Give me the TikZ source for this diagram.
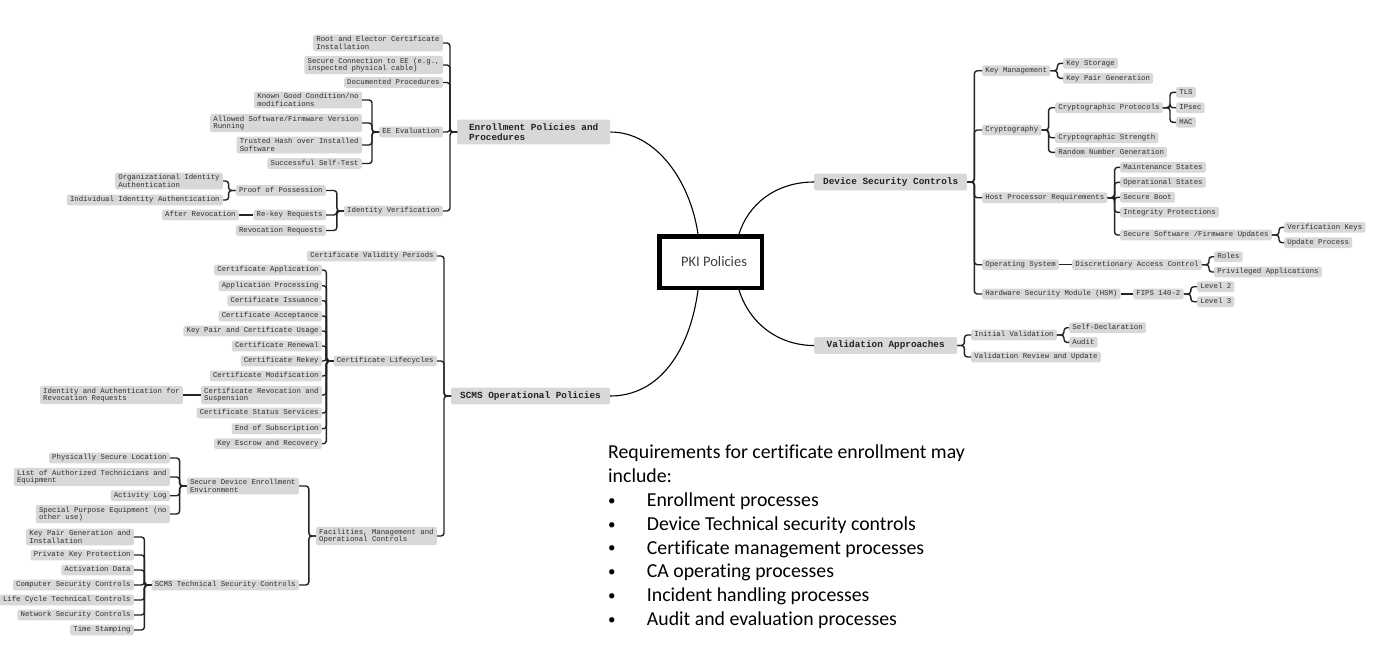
\documentclass[tikz,border=0pt]{standalone}
\usepackage{fontspec}
\setmainfont{Carlito}
\newfontfamily\monof{Liberation Mono}
\newfontfamily\calib[Ligatures={NoCommon}]{Carlito}
\definecolor{boxgray}{RGB}{216,216,216}
\definecolor{leaftext}{RGB}{45,45,45}
\definecolor{cattext}{RGB}{35,35,35}
\definecolor{linegray}{RGB}{35,35,35}
\definecolor{pkitext}{RGB}{64,64,64}
\newcommand\rbr[2]{\foreach \chn in {#2}{\draw[br] (#1.east) -- ++(7,0) |- (\chn.west);}}
\newcommand\lbr[2]{\foreach \chn in {#2}{\draw[br] (#1.west) -- ++(-7,0) |- (\chn.east);}}
\newcommand\bul{\makebox[38.7pt][l]{\raisebox{1.2pt}{\fontsize{15}{15}\selectfont•}}}
\begin{document}
\begin{tikzpicture}[x=1pt,y=-1pt,
  leaf/.style={fill=boxgray, rounded corners=2pt, inner xsep=3.2pt, inner ysep=2pt,
    font=\monof\fontsize{7.33}{7.4}\selectfont, text=leaftext, text height=5.1pt, text depth=1.5pt},
  leafii/.style={fill=boxgray, rounded corners=2pt, inner xsep=3.2pt, inner ysep=2pt,
    font=\monof\fontsize{7.33}{7.4}\selectfont, text=leaftext, align=left},
  cat/.style={fill=boxgray, rounded corners=2pt, inner xsep=9pt, inner ysep=4.4pt,
    font=\monof\bfseries\fontsize{9.37}{10}\selectfont, text=cattext, text height=6.3pt, text depth=1.8pt},
  catii/.style={fill=boxgray, rounded corners=2pt, inner xsep=9pt, inner ysep=4pt,
    font=\monof\bfseries\fontsize{9.37}{10}\selectfont, text=cattext, align=left},
  br/.style={draw=linegray, line width=1.4pt, rounded corners=3pt},
  main/.style={draw=black, line width=1.1pt},
  pkibox/.style={draw=black, line width=4.5pt, fill=white, minimum width=102.5pt, minimum height=51.5pt,
    inner sep=0pt, font=\calib\fontsize{14.5}{17}\selectfont, text=pkitext},
]
\fill[white] (0,0) rectangle (1381,649);
\useasboundingbox (0,0) rectangle (1381,649);

% centre
\node[pkibox] (pki) at (710.5,262) {\hspace*{7pt}PKI Policies};

% main branches
\node[catii, anchor=west, minimum width=153pt] (enr) at (457,132) {Enrollment Policies and\\Procedures};
\node[cat, anchor=east] (scms) at (610,396) {SCMS Operational Policies};
\node[cat, anchor=west] (dsc) at (814,182) {Device Security Controls};
\node[cat, anchor=west, minimum width=143pt] (va) at (814,345.5) {Validation Approaches};

% enrollment
\node[leafii, anchor=east] (e1) at (443,43) {Root and Elector Certificate\\Installation};
\node[leafii, anchor=east] (e2) at (443,65) {Secure Connection to EE (e.g.,\\inspected physical cable)};
\node[leaf, anchor=east] (e3) at (443,82.5) {Documented Procedures};
\node[leaf, anchor=east] (eev) at (443,132) {EE Evaluation};
\node[leaf, anchor=east] (idv) at (443,211) {Identity Verification};
\node[leafii, anchor=east] (ee1) at (362,100) {Known Good Condition/no\\modifications};
\node[leafii, anchor=east] (ee2) at (362,123) {Allowed Software/Firmware Version\\Running};
\node[leafii, anchor=east] (ee3) at (362,145) {Trusted Hash over Installed\\Software};
\node[leaf, anchor=east] (ee4) at (362,163.5) {Successful Self-Test};
\node[leaf, anchor=east] (pop) at (326,190.5) {Proof of Possession};
\node[leaf, anchor=east] (rkr) at (326,215) {Re-key Requests};
\node[leaf, anchor=east] (rvr) at (326,230.5) {Revocation Requests};
\node[leafii, anchor=east] (pop1) at (223,181) {Organizational Identity\\Authentication};
\node[leaf, anchor=east] (pop2) at (223,200) {Individual Identity Authentication};
\node[leaf, anchor=east] (arv) at (239,215) {After Revocation};

% SCMS operational
\node[leaf, anchor=east] (cvp) at (437,256) {Certificate Validity Periods};
\node[leaf, anchor=east] (clc) at (437,361) {Certificate Lifecycles};
\node[leafii, anchor=east] (fmo) at (437,536) {Facilities, Management and\\Operational Controls};
\node[leaf, anchor=east] (l1) at (322,270) {Certificate Application\ };
\node[leaf, anchor=east] (l2) at (322,285.7) {Application Processing};
\node[leaf, anchor=east] (l3) at (322,300.7) {Certificate Issuance};
\node[leaf, anchor=east] (l4) at (322,316) {Certificate Acceptance};
\node[leaf, anchor=east] (l5) at (322,331) {Key Pair and Certificate Usage};
\node[leaf, anchor=east] (l6) at (322,346) {Certificate Renewal};
\node[leaf, anchor=east] (l7) at (322,361) {Certificate Rekey};
\node[leaf, anchor=east] (l8) at (322,376) {Certificate Modification\ };
\node[leafii, anchor=east] (l9) at (322,395) {Certificate Revocation and\\Suspension};
\node[leaf, anchor=east] (l10) at (322,413) {Certificate Status Services};
\node[leaf, anchor=east] (l11) at (322,428.7) {End of Subscription\ };
\node[leaf, anchor=east] (l12) at (322,443.7) {Key Escrow and Recovery\ };
\node[leafii, anchor=east] (iar) at (183,395) {Identity and Authentication for\\Revocation Requests};
\node[leafii, anchor=east] (sdee) at (299,486) {Secure Device Enrollment\\Environment};
\node[leaf, anchor=east] (stsc) at (299,585) {SCMS Technical Security Controls};
\node[leaf, anchor=east] (sd1) at (170,458) {Physically Secure Location};
\node[leafii, anchor=east] (sd2) at (170,477) {List of Authorized Technicians and\\Equipment};
\node[leaf, anchor=east] (sd3) at (170,495.7) {Activity Log};
\node[leafii, anchor=east] (sd4) at (170,514) {Special Purpose Equipment (no\\other use)};
\node[leafii, anchor=east] (st1) at (134,537) {Key Pair Generation and\\Installation};
\node[leaf, anchor=east] (st2) at (134,555) {Private Key Protection};
\node[leaf, anchor=east] (st3) at (134,570) {Activation Data};
\node[leaf, anchor=east] (st4) at (134,585) {Computer Security Controls};
\node[leaf, anchor=east] (st5) at (134,600) {Life Cycle Technical Controls};
\node[leaf, anchor=east] (st6) at (134,615) {Network Security Controls};
\node[leaf, anchor=east] (st7) at (134,630) {Time Stamping};

% device security controls
\node[leaf, anchor=west] (km) at (982,70.7) {Key Management};
\node[leaf, anchor=west] (cr) at (982,130) {Cryptography};
\node[leaf, anchor=west] (hp) at (982,197.7) {Host Processor Requirements};
\node[leaf, anchor=west] (ops) at (982,264.7) {Operating System};
\node[leaf, anchor=west] (hsm) at (982,294) {Hardware Security Module (HSM)};
\node[leaf, anchor=west] (ks) at (1063,63.3) {Key Storage};
\node[leaf, anchor=west] (kpg) at (1063,78.3) {Key Pair Generation};
\node[leaf, anchor=west] (cp) at (1055,107.7) {Cryptographic Protocols};
\node[leaf, anchor=west] (cs) at (1055,137.7) {Cryptographic Strength};
\node[leaf, anchor=west] (rng) at (1055,152.3) {Random Number Generation};
\node[leaf, anchor=west] (tls) at (1176,92.3) {TLS};
\node[leaf, anchor=west] (ips) at (1176,107.7) {IPsec};
\node[leaf, anchor=west] (mac) at (1176,122.3) {MAC};
\node[leaf, anchor=west] (ms) at (1120,167.3) {Maintenance States};
\node[leaf, anchor=west] (ost) at (1120,182.3) {Operational States};
\node[leaf, anchor=west] (sb) at (1120,197.3) {Secure Boot};
\node[leaf, anchor=west] (ip) at (1120,212.3) {Integrity Protections};
\node[leaf, anchor=west] (ssfu) at (1120,235) {Secure Software /Firmware Updates};
\node[leaf, anchor=west] (vk) at (1284,227.3) {Verification Keys};
\node[leaf, anchor=west] (up) at (1284,242.7) {Update Process};
\node[leaf, anchor=west] (dac) at (1072,264.7) {Discretionary Access Control};
\node[leaf, anchor=west] (rol) at (1214,256.7) {Roles};
\node[leaf, anchor=west] (pra) at (1214,272) {Privileged Applications};
\node[leaf, anchor=west] (fips) at (1133,294) {FIPS 140-2};
\node[leaf, anchor=west] (lv2) at (1197,286.7) {Level 2};
\node[leaf, anchor=west] (lv3) at (1197,301.7) {Level 3};

% validation
\node[leaf, anchor=west] (iv) at (971,335) {Initial Validation};
\node[leaf, anchor=west] (vru) at (971,357) {Validation Review and Update};
\node[leaf, anchor=west] (sdc) at (1069,327.7) {Self-Declaration};
\node[leaf, anchor=west] (aud) at (1069,342.3) {Audit};

% requirements text
\node[anchor=north west, inner sep=0pt, align=left, font=\calib\fontsize{19.8}{23.8}\selectfont, text=black] (req) at (608,445)
 {Requirements for certificate enrollment may\\include:\\\bul Enrollment processes\\\bul Device Technical security controls\\\bul Certificate management processes\\\bul CA operating processes\\\bul Incident handling processes\\\bul Audit and evaluation processes};

% main curves
\draw[main] (enr.east) .. controls +(45,0) and +(-8,-54) .. ([xshift=-12.5pt]pki.north);
\draw[main] (dsc.west) .. controls +(-39,0) and +(9,-29) .. ([xshift=28.5pt]pki.north);
\draw[main] ([xshift=28.5pt]pki.south) .. controls +(11,35) and +(-34,0) .. (va.west);
\draw[main] ([xshift=-12.5pt]pki.south) .. controls +(-8,60) and +(50,0) .. (scms.east);

% brackets
\lbr{enr}{e1,e2,e3,eev,idv}
\lbr{eev}{ee1,ee2,ee3,ee4}
\lbr{idv}{pop,rkr,rvr}
\lbr{pop}{pop1,pop2}
\draw[br] (rkr.west) -- (arv.east);
\lbr{scms}{cvp,clc,fmo}
\lbr{clc}{l1,l2,l3,l4,l5,l6,l7,l8,l9,l10,l11,l12}
\draw[br] (l9.west) -- (iar.east);
\lbr{fmo}{sdee,stsc}
\lbr{sdee}{sd1,sd2,sd3,sd4}
\lbr{stsc}{st1,st2,st3,st4,st5,st6,st7}
\rbr{dsc}{km,cr,hp,ops,hsm}
\rbr{km}{ks,kpg}
\rbr{cr}{cp,cs,rng}
\rbr{cp}{tls,ips,mac}
\rbr{hp}{ms,ost,sb,ip,ssfu}
\rbr{ssfu}{vk,up}
\draw[br] (ops.east) -- (dac.west);
\rbr{dac}{rol,pra}
\draw[br] (hsm.east) -- (fips.west);
\rbr{fips}{lv2,lv3}
\rbr{va}{iv,vru}
\rbr{iv}{sdc,aud}
\end{tikzpicture}
\end{document}
